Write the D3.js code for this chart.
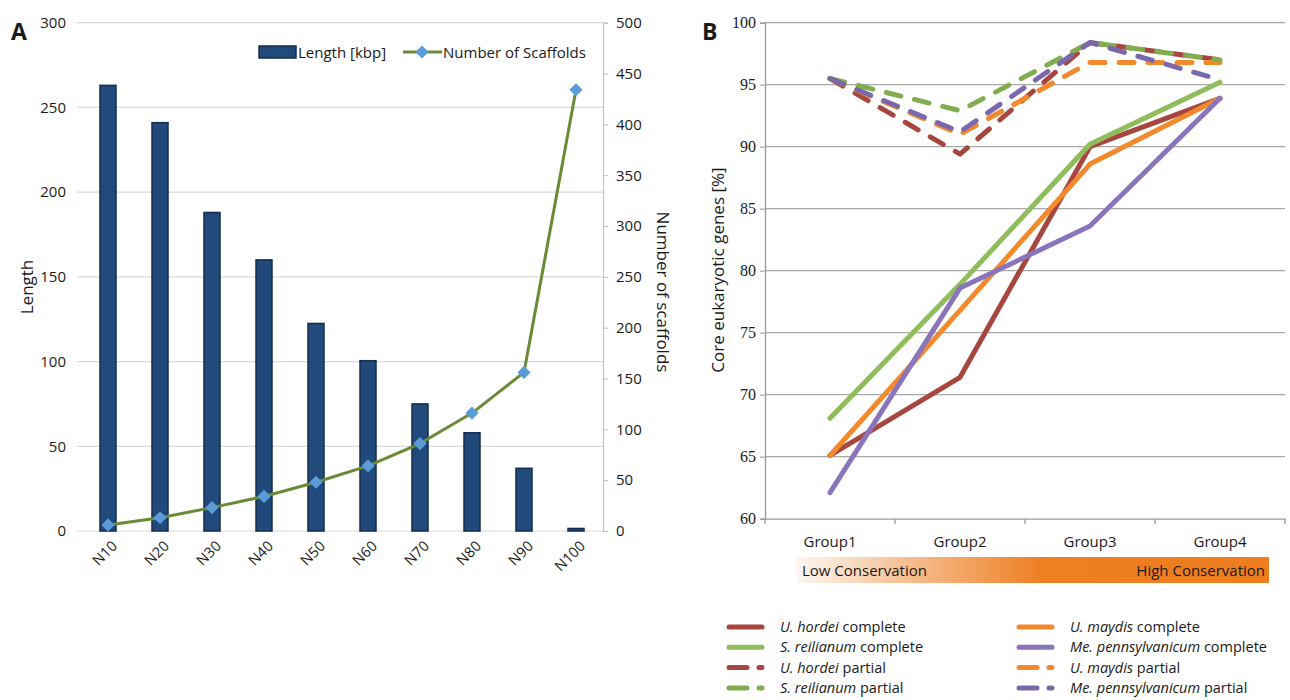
<!DOCTYPE html>
<html>
<head>
<meta charset="utf-8">
<script src="https://cdn.jsdelivr.net/npm/d3@7"></script>
<style>
  body { margin: 0; background: #fff; }
  text { font-family: "Open Sans", "DejaVu Sans", sans-serif; fill: #1a1a1a; }
</style>
</head>
<body>
<script>
// ---- panel A data ----
var nLabels = ["N10", "N20", "N30", "N40", "N50", "N60", "N70", "N80", "N90", "N100"];
var lengthKbp = [263, 241, 188, 160, 122.5, 100.5, 75, 58, 37, 1.5];
var scaffolds = [6, 13, 23, 34, 48, 64, 86, 116, 156, 434];
var lengthTicks = [0, 50, 100, 150, 200, 250, 300];
var scaffoldTicks = [0, 50, 100, 150, 200, 250, 300, 350, 400, 450, 500];

// ---- panel B data ----
var groups = ["Group1", "Group2", "Group3", "Group4"];
var hordeiComplete = [65.1, 71.4, 90.0, 93.9];
var maydisComplete = [65.1, 76.8, 88.6, 93.9];
var reilianumComplete = [68.1, 78.9, 90.2, 95.2];
var pennComplete = [62.1, 78.6, 83.6, 93.9];
var hordeiPartial = [95.5, 89.4, 98.4, 97.0];
var maydisPartial = [95.5, 91.0, 96.8, 96.8];
var reilianumPartial = [95.5, 92.9, 98.4, 97.0];
var pennPartial = [95.5, 91.2, 98.4, 95.4];
var pctTicks = [60, 65, 70, 75, 80, 85, 90, 95, 100];

var svg = d3.select("body").append("svg")
  .attr("width", 1290)
  .attr("height", 700);

// ================= Panel A =================
var xA = d3.scaleBand().domain(nLabels).range([82, 602]);
var yL = d3.scaleLinear().domain([0, 300]).range([531, 22.7]);
var yR = d3.scaleLinear().domain([0, 500]).range([531, 22.7]);

var gA = svg.append("g");

// gridlines
gA.selectAll("line.grid")
  .data(lengthTicks)
  .enter().append("line")
  .attr("x1", 77).attr("x2", 603)
  .attr("y1", function(d) { return yL(d); })
  .attr("y2", function(d) { return yL(d); })
  .attr("stroke", "#d9d9d9")
  .attr("stroke-width", 1.2);

// left axis labels
var axL = gA.append("g")
  .attr("transform", "translate(77,0)")
  .call(d3.axisLeft(yL).tickValues(lengthTicks).tickSize(0).tickPadding(11));
axL.select(".domain").remove();
axL.selectAll("text").style("font-size", "15px");

// right axis
var axR = gA.append("g")
  .attr("transform", "translate(603,0)")
  .call(d3.axisRight(yR).tickValues(scaffoldTicks).tickSize(5).tickPadding(8));
axR.select(".domain").attr("stroke", "#bfbfbf");
axR.selectAll("line").attr("stroke", "#bfbfbf");
axR.selectAll("text").style("font-size", "15px");

// bars
var barW = 16;
gA.selectAll("rect.bar")
  .data(lengthKbp)
  .enter().append("rect")
  .attr("x", function(d, i) { return xA(nLabels[i]) + xA.bandwidth() / 2 - barW / 2; })
  .attr("y", function(d) { return yL(d); })
  .attr("width", barW)
  .attr("height", function(d) { return yL(0) - yL(d); })
  .attr("fill", "#21497a")
  .attr("stroke", "#132c4f")
  .attr("stroke-width", 1.5);

// x labels, rotated
gA.selectAll("text.xlab")
  .data(nLabels)
  .enter().append("text")
  .attr("text-anchor", "end")
  .attr("transform", function(d) {
    return "translate(" + (xA(d) + xA.bandwidth() / 2 + 10) + ",547) rotate(-45)";
  })
  .style("font-size", "14.5px")
  .text(function(d) { return d; });

// scaffold line
var lineA = d3.line()
  .x(function(d, i) { return xA(nLabels[i]) + xA.bandwidth() / 2; })
  .y(function(d) { return yR(d); });
gA.append("path")
  .attr("d", lineA(scaffolds))
  .attr("fill", "none")
  .attr("stroke", "#6a8a36")
  .attr("stroke-width", 3)
  .attr("stroke-linejoin", "round");

var diamond = d3.symbol().type(d3.symbolDiamond2).size(110);
gA.selectAll("path.mk")
  .data(scaffolds)
  .enter().append("path")
  .attr("d", diamond)
  .attr("transform", function(d, i) {
    return "translate(" + (xA(nLabels[i]) + xA.bandwidth() / 2) + "," + yR(d) + ")";
  })
  .attr("fill", "#5b9bd8");

// legend A
gA.append("rect").attr("x", 259).attr("y", 46).attr("width", 37).attr("height", 12)
  .attr("fill", "#21497a").attr("stroke", "#132c4f").attr("stroke-width", 1.5);
gA.append("text").attr("x", 298).attr("y", 58).style("font-size", "15px").text("Length [kbp]");
gA.append("line").attr("x1", 403).attr("x2", 442).attr("y1", 52).attr("y2", 52)
  .attr("stroke", "#6a8a36").attr("stroke-width", 3);
gA.append("path").attr("d", diamond).attr("transform", "translate(422,52)").attr("fill", "#5b9bd8");
gA.append("text").attr("x", 443).attr("y", 58).style("font-size", "15px").text("Number of Scaffolds");

// axis titles
gA.append("text")
  .attr("transform", "translate(33,287) rotate(-90)")
  .attr("text-anchor", "middle")
  .style("font-size", "17px")
  .text("Length");
gA.append("text")
  .attr("transform", "translate(657,292) rotate(90)")
  .attr("text-anchor", "middle")
  .style("font-size", "17px")
  .text("Number of scaffolds");

gA.append("text").attr("x", 11).attr("y", 40)
  .attr("font-family", "Liberation Sans, Arial, sans-serif")
  .style("font-size", "23px").style("font-weight", "bold").text("A");

// ================= Panel B =================
var xB = d3.scaleBand().domain(groups).range([765, 1285]);
var yB = d3.scaleLinear().domain([60, 100]).range([518.7, 22.7]);
var gB = svg.append("g");

gB.selectAll("line.grid")
  .data(pctTicks.slice(1))
  .enter().append("line")
  .attr("x1", 765).attr("x2", 1285)
  .attr("y1", function(d) { return yB(d); })
  .attr("y2", function(d) { return yB(d); })
  .attr("stroke", "#a9a9a9")
  .attr("stroke-width", 1.3);

var axBL = gB.append("g")
  .attr("transform", "translate(765,0)")
  .call(d3.axisLeft(yB).tickValues(pctTicks).tickSize(5).tickPadding(4));
axBL.select(".domain").attr("stroke", "#999").attr("stroke-width", 1.3);
axBL.selectAll("line").attr("stroke", "#999");
axBL.selectAll("text")
  .style("font-family", "Liberation Serif, serif")
  .style("font-size", "16px");

var axBB = gB.append("g")
  .attr("transform", "translate(0,518.7)")
  .call(d3.axisBottom(xB).tickSize(0).tickPadding(18));
axBB.select(".domain").attr("stroke", "#999").attr("stroke-width", 1.3);
axBB.selectAll("text").style("font-size", "15px");
// band boundary ticks
gB.selectAll("line.btick")
  .data([765, 895, 1025, 1155, 1285])
  .enter().append("line")
  .attr("x1", function(d) { return d; }).attr("x2", function(d) { return d; })
  .attr("y1", 518.7).attr("y2", 524)
  .attr("stroke", "#999").attr("stroke-width", 1.3);

// gradient bar
var defs = svg.append("defs");
var grad = defs.append("linearGradient").attr("id", "cons")
  .attr("x1", "0%").attr("x2", "100%");
grad.append("stop").attr("offset", "0%").attr("stop-color", "#fdf6f0");
grad.append("stop").attr("offset", "25%").attr("stop-color", "#f5bb8a");
grad.append("stop").attr("offset", "52%").attr("stop-color", "#ee7f22");
grad.append("stop").attr("offset", "100%").attr("stop-color", "#ee7d1f");
gB.append("rect").attr("x", 797).attr("y", 557).attr("width", 472).attr("height", 26)
  .attr("fill", "url(#cons)");
gB.append("text").attr("x", 802).attr("y", 576).style("font-size", "15px").text("Low Conservation");
gB.append("text").attr("x", 1265).attr("y", 576).attr("text-anchor", "end")
  .style("font-size", "15px").text("High Conservation");

// series
var series = [
  { v: hordeiComplete, c: "#a6463f", dash: null },
  { v: maydisComplete, c: "#f2892c", dash: null },
  { v: reilianumComplete, c: "#8fbd5c", dash: null },
  { v: pennComplete, c: "#8a74bb", dash: null },
  { v: hordeiPartial, c: "#a6463f", dash: "15,14" },
  { v: maydisPartial, c: "#f2892c", dash: "15,14" },
  { v: reilianumPartial, c: "#82ad4e", dash: "15,14" },
  { v: pennPartial, c: "#7b68ac", dash: "15,14" }
];
var lineB = d3.line()
  .x(function(d, i) { return xB(groups[i]) + xB.bandwidth() / 2; })
  .y(function(d) { return yB(d); });
gB.selectAll("path.ser")
  .data(series)
  .enter().append("path")
  .attr("d", function(s) { return lineB(s.v); })
  .attr("fill", "none")
  .attr("stroke", function(s) { return s.c; })
  .attr("stroke-width", 5)
  .attr("stroke-linecap", "round")
  .attr("stroke-linejoin", "round")
  .attr("stroke-dasharray", function(s) { return s.dash; });

gB.append("text")
  .attr("transform", "translate(724,270) rotate(-90)")
  .attr("text-anchor", "middle")
  .style("font-size", "17px")
  .text("Core eukaryotic genes [%]");

gB.append("text").attr("x", 702).attr("y", 40)
  .attr("font-family", "Liberation Sans, Arial, sans-serif")
  .style("font-size", "23px").style("font-weight", "bold").text("B");

// legend B
var legendItems = [
  { sp: "U. hordei", kind: " complete", c: "#a6463f", dash: null, col: 0, row: 0 },
  { sp: "S. reilianum", kind: " complete", c: "#8fbd5c", dash: null, col: 0, row: 1 },
  { sp: "U. hordei", kind: " partial", c: "#a6463f", dash: "18,12", col: 0, row: 2 },
  { sp: "S. reilianum", kind: " partial", c: "#82ad4e", dash: "18,12", col: 0, row: 3 },
  { sp: "U. maydis", kind: " complete", c: "#f2892c", dash: null, col: 1, row: 0 },
  { sp: "Me. pennsylvanicum", kind: " complete", c: "#8a74bb", dash: null, col: 1, row: 1 },
  { sp: "U. maydis", kind: " partial", c: "#f2892c", dash: "18,12", col: 1, row: 2 },
  { sp: "Me. pennsylvanicum", kind: " partial", c: "#7b68ac", dash: "18,12", col: 1, row: 3 }
];
var lg = gB.selectAll("g.lg")
  .data(legendItems)
  .enter().append("g")
  .attr("transform", function(d) {
    return "translate(" + (d.col ? 1017 : 727) + "," + (627 + d.row * 20.3) + ")";
  });
lg.append("line")
  .attr("x1", 2).attr("x2", 35).attr("y1", 0).attr("y2", 0)
  .attr("stroke", function(d) { return d.c; })
  .attr("stroke-width", 5)
  .attr("stroke-linecap", "round")
  .attr("stroke-dasharray", function(d) { return d.dash; });
var lt = lg.append("text").attr("x", 53).attr("y", 5).style("font-size", "14.5px");
lt.append("tspan").style("font-style", "italic").text(function(d) { return d.sp; });
lt.append("tspan").text(function(d) { return d.kind; });
</script>
</body>
</html>
